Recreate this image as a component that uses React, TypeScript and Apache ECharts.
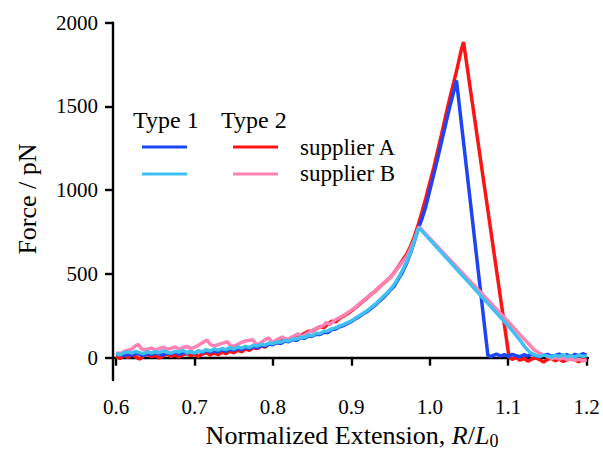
import React, { useEffect, useRef } from "react";
import * as echarts from "echarts";

const xTicks = [0.6, 0.7, 0.8, 0.9, 1.0, 1.1, 1.2];
const yTicks = [0, 500, 1000, 1500, 2000];

// Type 1, supplier A (dark blue)
const type1SupplierA: [number, number][] = [
  [0.6, 18], [0.605, 25], [0.61, 12], [0.615, 22], [0.62, 15], [0.625, 28], [0.63, 20], [0.635, 14],
  [0.64, 26], [0.645, 19], [0.65, 30], [0.655, 22], [0.66, 16], [0.665, 29], [0.67, 24], [0.675, 35],
  [0.68, 20], [0.685, 31], [0.69, 27], [0.695, 38], [0.7, 25], [0.705, 40], [0.71, 30], [0.715, 44],
  [0.72, 33], [0.725, 41], [0.73, 36], [0.735, 50], [0.74, 38], [0.745, 52], [0.75, 45], [0.755, 58],
  [0.76, 48], [0.765, 62], [0.77, 55], [0.775, 66], [0.78, 60], [0.785, 75], [0.79, 68], [0.795, 82],
  [0.8, 78], [0.805, 92], [0.81, 85], [0.815, 100], [0.82, 95], [0.825, 108], [0.83, 102], [0.835, 120],
  [0.84, 115], [0.845, 130], [0.85, 128], [0.855, 140], [0.86, 138], [0.865, 152], [0.87, 150], [0.875, 168],
  [0.88, 172], [0.885, 185], [0.89, 192], [0.895, 205], [0.9, 215], [0.905, 232], [0.91, 245], [0.915, 262],
  [0.92, 275], [0.925, 295], [0.93, 312], [0.935, 335], [0.94, 355], [0.945, 380], [0.95, 405], [0.955, 430],
  [0.96, 470], [0.965, 510], [0.97, 560], [0.975, 620], [0.98, 690], [0.985, 765], [0.99, 830], [0.995, 905],
  [1.0, 1000], [1.005, 1095], [1.01, 1190], [1.015, 1290], [1.02, 1390], [1.025, 1490], [1.03, 1580], [1.034, 1655],
  [1.074, 15], [1.078, 5], [1.08, 12], [1.085, 22], [1.09, 10], [1.095, 18], [1.1, 8], [1.105, 20],
  [1.11, 12], [1.115, 6], [1.12, 18], [1.125, 10], [1.13, 22], [1.135, 12], [1.14, 5], [1.145, 16],
  [1.15, 20], [1.155, 8], [1.16, 14], [1.165, 22], [1.17, 10], [1.175, 18], [1.18, 6], [1.185, 20],
  [1.19, 12], [1.195, 24], [1.2, 15],
];

// Type 2, supplier A (red)
const type2SupplierA: [number, number][] = [
  [0.6, 10], [0.605, -5], [0.61, 15], [0.615, 2], [0.62, 18], [0.625, 5], [0.63, -8], [0.635, 12],
  [0.64, 20], [0.645, 6], [0.65, 14], [0.655, -2], [0.66, 10], [0.665, 22], [0.67, 8], [0.675, 16],
  [0.68, 4], [0.685, 18], [0.69, 25], [0.695, 12], [0.7, 20], [0.705, 8], [0.71, 22], [0.715, 30],
  [0.72, 16], [0.725, 28], [0.73, 18], [0.735, 34], [0.74, 24], [0.745, 38], [0.75, 30], [0.755, 44],
  [0.76, 36], [0.765, 52], [0.77, 44], [0.775, 60], [0.78, 54], [0.785, 70], [0.79, 64], [0.795, 82],
  [0.8, 90], [0.805, 86], [0.81, 100], [0.815, 112], [0.82, 106], [0.825, 122], [0.83, 134], [0.835, 128],
  [0.84, 145], [0.845, 158], [0.85, 160], [0.855, 172], [0.86, 185], [0.865, 180], [0.87, 200], [0.875, 218],
  [0.88, 214], [0.885, 236], [0.89, 248], [0.895, 262], [0.9, 280], [0.905, 298], [0.91, 318], [0.915, 338],
  [0.92, 356], [0.925, 378], [0.93, 396], [0.935, 418], [0.94, 440], [0.945, 460], [0.95, 482], [0.955, 512],
  [0.96, 545], [0.965, 580], [0.97, 615], [0.975, 660], [0.98, 720], [0.985, 790], [0.99, 870], [0.995, 955],
  [1.0, 1045], [1.005, 1135], [1.01, 1235], [1.015, 1335], [1.02, 1440], [1.025, 1540], [1.03, 1635], [1.035, 1730],
  [1.04, 1835], [1.043, 1885], [1.101, 5], [1.105, -10], [1.11, 2], [1.115, -15], [1.12, -5], [1.125, -20],
  [1.13, -8], [1.135, 0], [1.14, -12], [1.145, -25], [1.15, -10], [1.155, -4], [1.16, -18], [1.165, -8],
  [1.17, -22], [1.175, -12], [1.18, -5], [1.185, -15], [1.19, -24], [1.195, -10], [1.2, -16],
];

// Type 1, supplier B (light blue)
const type1SupplierB: [number, number][] = [
  [0.6, 25], [0.605, 18], [0.61, 30], [0.615, 35], [0.62, 28], [0.625, 38], [0.63, 30], [0.635, 24],
  [0.64, 35], [0.645, 28], [0.65, 36], [0.655, 30], [0.66, 40], [0.665, 32], [0.67, 28], [0.675, 38],
  [0.68, 34], [0.685, 44], [0.69, 30], [0.695, 36], [0.7, 28], [0.705, 40], [0.71, 36], [0.715, 48],
  [0.72, 40], [0.725, 52], [0.73, 45], [0.735, 55], [0.74, 48], [0.745, 60], [0.75, 52], [0.755, 64],
  [0.76, 58], [0.765, 68], [0.77, 62], [0.775, 74], [0.78, 70], [0.785, 80], [0.79, 76], [0.795, 88],
  [0.8, 84], [0.805, 95], [0.81, 92], [0.815, 104], [0.82, 100], [0.825, 112], [0.83, 110], [0.835, 122],
  [0.84, 120], [0.845, 134], [0.85, 132], [0.855, 146], [0.86, 145], [0.865, 158], [0.87, 160], [0.875, 172],
  [0.88, 178], [0.885, 190], [0.89, 198], [0.895, 210], [0.9, 220], [0.905, 236], [0.91, 250], [0.915, 266],
  [0.92, 280], [0.925, 300], [0.93, 318], [0.935, 340], [0.94, 362], [0.945, 385], [0.95, 410], [0.955, 440],
  [0.96, 478], [0.965, 520], [0.97, 568], [0.975, 625], [0.98, 695], [0.986, 777],
  [1.1, 190], [1.115, 105], [1.122, 60], [1.128, 30], [1.135, 14], [1.14, 8], [1.145, 16], [1.15, 10],
  [1.155, 4], [1.16, 14], [1.165, 8], [1.17, 18], [1.175, 6], [1.18, 12], [1.185, 4], [1.19, 16],
  [1.195, 8], [1.2, 12],
];

// Type 2, supplier B (pink)
const type2SupplierB: [number, number][] = [
  [0.6, 30], [0.605, 22], [0.61, 38], [0.615, 45], [0.62, 52], [0.625, 72], [0.628, 80], [0.632, 55],
  [0.635, 48], [0.64, 50], [0.645, 58], [0.65, 46], [0.655, 55], [0.66, 62], [0.665, 50], [0.67, 56],
  [0.675, 64], [0.68, 52], [0.685, 60], [0.69, 68], [0.695, 56], [0.7, 62], [0.705, 75], [0.71, 90],
  [0.716, 106], [0.72, 80], [0.725, 70], [0.73, 78], [0.735, 86], [0.742, 95], [0.746, 72], [0.75, 70],
  [0.755, 80], [0.76, 92], [0.765, 100], [0.77, 104], [0.774, 108], [0.778, 84], [0.782, 80], [0.786, 95],
  [0.79, 108], [0.795, 118], [0.798, 96], [0.802, 98], [0.806, 110], [0.812, 124], [0.816, 108], [0.82, 112],
  [0.826, 128], [0.832, 142], [0.836, 126], [0.84, 134], [0.845, 150], [0.85, 162], [0.855, 170], [0.86, 182],
  [0.865, 196], [0.868, 210], [0.872, 198], [0.876, 212], [0.88, 228], [0.885, 240], [0.89, 252], [0.895, 268],
  [0.9, 284], [0.905, 300], [0.91, 322], [0.915, 340], [0.92, 360], [0.925, 380], [0.93, 398], [0.935, 420],
  [0.94, 440], [0.945, 462], [0.95, 480], [0.955, 510], [0.96, 540], [0.965, 572], [0.97, 600], [0.975, 645],
  [0.98, 700], [0.986, 782],
  [1.1, 215], [1.115, 138], [1.125, 88], [1.133, 48], [1.14, 26], [1.148, 12], [1.152, 4], [1.156, -6],
  [1.16, 2], [1.165, -8], [1.17, 0], [1.175, -12], [1.18, -4], [1.185, -16], [1.19, -8], [1.195, -18],
  [1.2, -12],
];

const seriesNames = ["Type 2 supplier A", "Type 1 supplier A", "Type 2 supplier B", "Type 1 supplier B"];
const seriesColors = ["#ff1414", "#1c46f5", "#ff82b4", "#3fc0f2"];
const seriesData = [type2SupplierA, type1SupplierA, type2SupplierB, type1SupplierB];

const FONT = "'Liberation Serif', 'Times New Roman', serif";

export default function App() {
  const ref = useRef<HTMLDivElement>(null);
  useEffect(() => {
    if (!ref.current) return;
    const chart = echarts.init(ref.current, undefined, { renderer: "svg" });
    const legendLine = (x1: number, x2: number, y: number, color: string) => ({
      type: "line",
      shape: { x1, y1: y, x2, y2: y },
      style: { stroke: color, lineWidth: 3.2 },
    });
    const txt = (x: number, y: number, text: string, size: number, align = "left") => ({
      type: "text",
      x,
      y,
      style: { text, font: `${size}px ${FONT}`, fill: "#000", align, verticalAlign: "middle" },
    });
    chart.setOption({
      animation: false,
      backgroundColor: "#fff",
      grid: { left: 113, right: 15, top: 22.7, bottom: 70, outerBoundsMode: "none" },
      xAxis: {
        type: "value",
        min: 0.596,
        max: 1.2017,
        splitLine: { show: false },
        axisLine: { lineStyle: { color: "#000", width: 2.4 } },
        axisTick: { customValues: xTicks, length: 8, lineStyle: { color: "#000", width: 2.4 } },
        axisLabel: {
          customValues: xTicks,
          margin: 16,
          color: "#000",
          fontFamily: FONT,
          fontSize: 21,
          formatter: (v: number) => v.toFixed(1),
        },
      },
      yAxis: {
        type: "value",
        min: -133,
        max: 2000,
        splitLine: { show: false },
        axisLine: { show: true, lineStyle: { color: "#000", width: 2.4 } },
        axisTick: { show: true, customValues: yTicks, length: 8, lineStyle: { color: "#000", width: 2.4 } },
        axisLabel: {
          customValues: yTicks,
          margin: 15,
          color: "#000",
          fontFamily: FONT,
          fontSize: 21,
          formatter: (v: number) => String(Math.round(v)),
        },
      },
      series: seriesData.map((d, i) => ({
        name: seriesNames[i],
        type: "line",
        data: d,
        showSymbol: false,
        symbol: "none",
        lineStyle: { color: seriesColors[i], width: 3.5 },
        itemStyle: { color: seriesColors[i] },
        z: 2 + i,
      })),
      graphic: [
        txt(133, 120, "Type 1", 24),
        txt(221, 120, "Type 2", 24),
        legendLine(142, 187, 147, seriesColors[1]),
        legendLine(142, 187, 174, seriesColors[3]),
        legendLine(233, 278, 147, seriesColors[0]),
        legendLine(233, 278, 174, seriesColors[2]),
        txt(300, 147, "supplier A", 23),
        txt(300, 173, "supplier B", 23),
        {
          type: "text",
          x: 27,
          y: 199,
          rotation: Math.PI / 2,
          style: {
            text: "Force / pN",
            font: `26px ${FONT}`,
            fill: "#000",
            align: "center",
            verticalAlign: "middle",
          },
        },
        {
          type: "text",
          x: 352,
          y: 435,
          style: {
            text: "{a|Normalized Extension, }{i|R}{a|/}{i|L}{s|0}",
            align: "center",
            verticalAlign: "middle",
            rich: {
              a: { font: `26px ${FONT}`, fill: "#000" },
              i: { font: `italic 26px ${FONT}`, fill: "#000" },
              s: { font: `18px ${FONT}`, fill: "#000", padding: [12, 0, 0, 0] },
            },
          },
        },
      ],
    });
    return () => chart.dispose();
  }, []);
  return <div ref={ref} style={{ position: "fixed", left: 0, top: 0, width: 603, height: 450 }} />;
}
